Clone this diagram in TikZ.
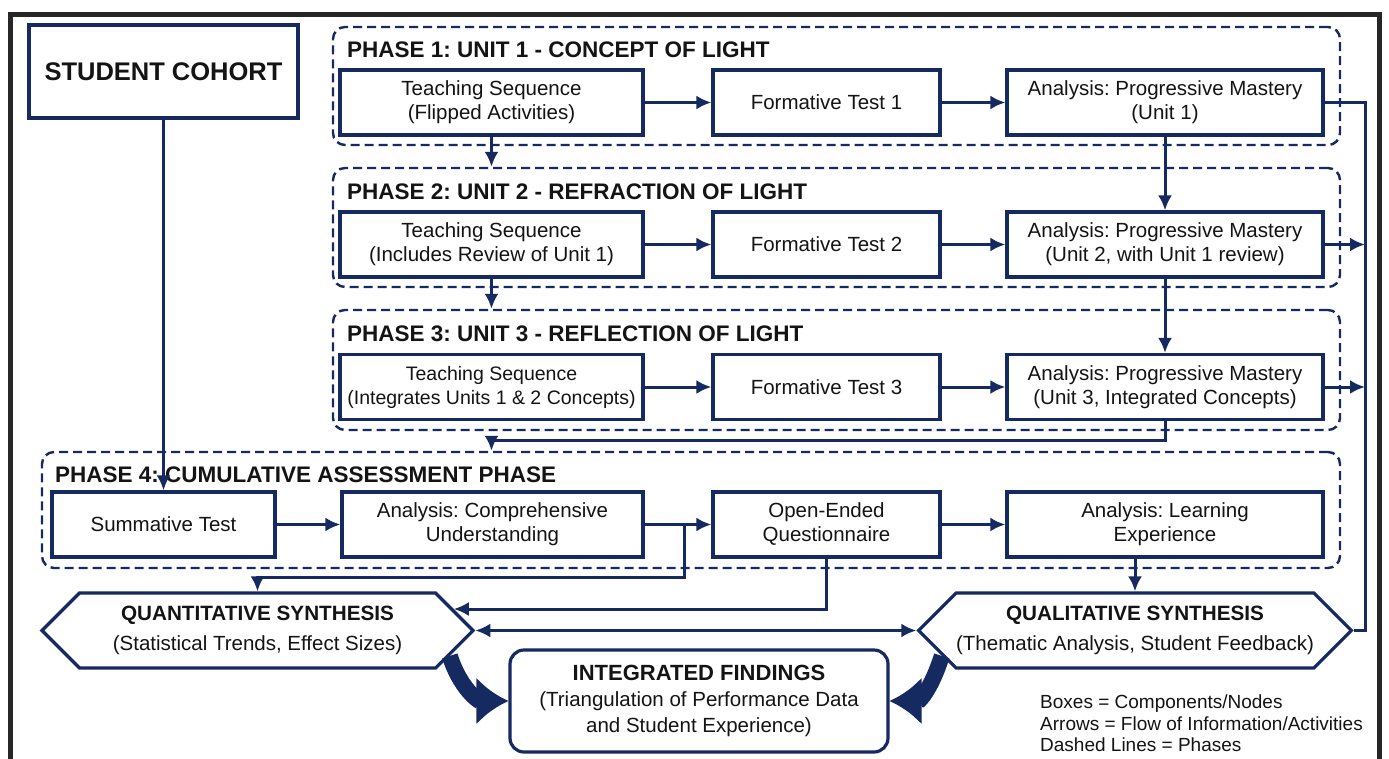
\documentclass[tikz,border=0pt]{standalone}
\usepackage{fontspec}
\setmainfont{Liberation Sans}
\usetikzlibrary{arrows.meta,shapes.symbols,calc}
\frenchspacing
\definecolor{navy}{RGB}{22,42,98}
\definecolor{inktext}{RGB}{20,20,20}
\definecolor{framegray}{RGB}{38,38,38}
\tikzset{
    box/.style = {draw=navy, line width=3.2pt, rectangle, fill=white,
        align=center, text=inktext, inner sep=0pt,
        minimum height=65pt,
        font=\fontsize{20.5}{24}\selectfont},
    phase/.style = {draw=navy, line width=2.4pt, dash pattern=on 9pt off 5pt,
        rounded corners=12pt, rectangle, inner sep=0pt},
    phasetitle/.style = {anchor=base west, inner sep=0pt, text=inktext,
        font=\bfseries\fontsize{22.5}{26}\selectfont},
    hexa/.style = {draw=navy, line width=3.2pt, shape=signal,
        signal to=west and east, signal pointer angle=90, fill=white,
        align=center, text=inktext, inner sep=0pt,
        minimum width=431pt, minimum height=75pt,
        font=\fontsize{20.5}{24}\selectfont},
    conn/.style = {draw=navy, line width=3pt},
    arrow/.style = {conn, -{Latex[length=15pt,width=14pt]}},
    dblarrow/.style = {conn, {Latex[length=15pt,width=14pt]}-{Latex[length=15pt,width=14pt]}},
    bigarrow/.style = {draw=navy, line width=16pt, -{Latex[length=32pt,width=48pt]}}
}

\begin{document}
\begin{tikzpicture}[x=1pt,y=-1pt]
    \useasboundingbox (0,0) rectangle (1389,758);
    \fill[white] (0,0) rectangle (1389,758);
    \draw[framegray, line width=5pt] (10,790) -- (10,14) -- (1379,14) -- (1379,790);

    % phases
    \node[phase, minimum width=1007pt, minimum height=118pt] (ph1) at (836.5,86) {};
    \node[phase, minimum width=1007pt, minimum height=119pt] (ph2) at (836.5,227.5) {};
    \node[phase, minimum width=1007pt, minimum height=120pt] (ph3) at (836.5,370) {};
    \node[phase, minimum width=1298pt, minimum height=116pt] (ph4) at (691,510) {};
    \node[phasetitle] (t1) at (347,57) {PHASE 1: UNIT 1 - CONCEPT OF LIGHT};
    \node[phasetitle] (t2) at (347,199) {PHASE 2: UNIT 2 - REFRACTION OF LIGHT};
    \node[phasetitle] (t3) at (347,341) {PHASE 3: UNIT 3 - REFLECTION OF LIGHT};
    \node[phasetitle] (t4) at (55,482) {PHASE 4: CUMULATIVE ASSESSMENT PHASE};

    \node[box, minimum width=269pt, minimum height=93pt,
        font=\bfseries\fontsize{25.5}{30}\selectfont] (coh) at (163.5,71.5) {STUDENT COHORT};

    % units 1-3
    \node[box, minimum width=303pt] (ts1) at (491.5,102.5) {Teaching Sequence\\(Flipped Activities)};
    \node[box, minimum width=227pt] (ft1) at (826.5,102.5) {Formative Test 1};
    \node[box, minimum width=316pt] (an1) at (1165,102.5) {Analysis: Progressive Mastery\\(Unit 1)};
    \node[box, minimum width=303pt] (ts2) at (491.5,244.5) {Teaching Sequence\\(Includes Review of Unit 1)};
    \node[box, minimum width=227pt] (ft2) at (826.5,244.5) {Formative Test 2};
    \node[box, minimum width=316pt] (an2) at (1165,244.5) {Analysis: Progressive Mastery\\(Unit 2, with Unit 1 review)};
    \node[box, minimum width=303pt, font=\fontsize{19.5}{24}\selectfont] (ts3) at (491.5,387) {Teaching Sequence\\(Integrates Units 1 \& 2 Concepts)};
    \node[box, minimum width=227pt] (ft3) at (826.5,387) {Formative Test 3};
    \node[box, minimum width=316pt] (an3) at (1165,387) {Analysis: Progressive Mastery\\(Unit 3, Integrated Concepts)};

    % cumulative phase
    \node[box, minimum width=223pt] (sum) at (163.5,524.5) {Summative Test};
    \node[box, minimum width=301pt] (acu) at (492.5,524.5) {Analysis: Comprehensive\\Understanding};
    \node[box, minimum width=227pt] (oeq) at (826.5,524.5) {Open-Ended\\Questionnaire};
    \node[box, minimum width=316pt] (ale) at (1165,524.5) {Analysis: Learning\\Experience};

    % synthesis
    \node[hexa] (quant) at (257.5,630.5) {{\bfseries\fontsize{20.7}{24}\selectfont QUANTITATIVE SYNTHESIS}\\[6pt](Statistical Trends, Effect Sizes)};
    \node[hexa, minimum width=430pt] (qual) at (1135,630.5) {{\bfseries\fontsize{20.7}{24}\selectfont QUALITATIVE SYNTHESIS}\\[6pt](Thematic Analysis, Student Feedback)};
    \node[box, rounded corners=14pt, minimum width=378pt, minimum height=102pt,
        font=\fontsize{20.5}{26}\selectfont] (find) at (699,701)
        {{\bfseries\fontsize{22}{26}\selectfont INTEGRATED FINDINGS}\\(Triangulation of Performance Data\\and Student Experience)};

    \node[anchor=north west, align=left, inner sep=0pt, text=inktext,
        font=\fontsize{19}{21.5}\selectfont] (legend) at (1040,695)
        {Boxes = Components/Nodes\\Arrows = Flow of Information/Activities\\Dashed Lines = Phases};

    % connectors
    \coordinate (bus) at (1365,0);
    \draw[arrow] (coh) -- (sum);
    \draw[arrow] (ts1) -- (ft1);
    \draw[arrow] (ft1) -- (an1);
    \draw[arrow] (ts2) -- (ft2);
    \draw[arrow] (ft2) -- (an2);
    \draw[arrow] (ts3) -- (ft3);
    \draw[arrow] (ft3) -- (an3);
    \draw[arrow] (ts1.south) -- (ts1.south |- ph2.north);
    \draw[arrow] (ts2.south) -- (ts2.south |- ph3.north);
    \draw[arrow] (an1) -- (an2);
    \draw[arrow] (an2) -- (an3);
    \draw[arrow] (an3.south) -- ++(0,19) -| (ts3.south |- ph4.north);
    \draw[conn] (an1.east) -- (an1.east -| bus) |- (qual.east);
    \draw[arrow] (an2.east) -- (an2.east -| bus);
    \draw[arrow] (an3.east) -- (an3.east -| bus);

    \draw[arrow] (sum) -- (acu);
    \draw[arrow] (acu) -- (oeq);
    \draw[arrow] (oeq) -- (ale);
    \coordinate (split) at ($(acu.east)+(40,0)$);
    \draw[arrow] (split) -- ++(0,53) -| (quant.north);
    \draw[arrow] (oeq.south) |- ($(quant.north east)!0.45!(quant.east)$);
    \draw[dblarrow] (quant.east) -- (qual.west);
    \draw[arrow] (ale.south -| qual.north) -- (qual.north);

    \draw[bigarrow] ($(quant.south east)!0.35!(quant.east)$) .. controls +(10,32) and +(-30,0) .. (find.west);
    \draw[bigarrow] ($(qual.south west)!0.35!(qual.west)$) .. controls +(-10,32) and +(30,0) .. (find.east);
\end{tikzpicture}
\end{document}
